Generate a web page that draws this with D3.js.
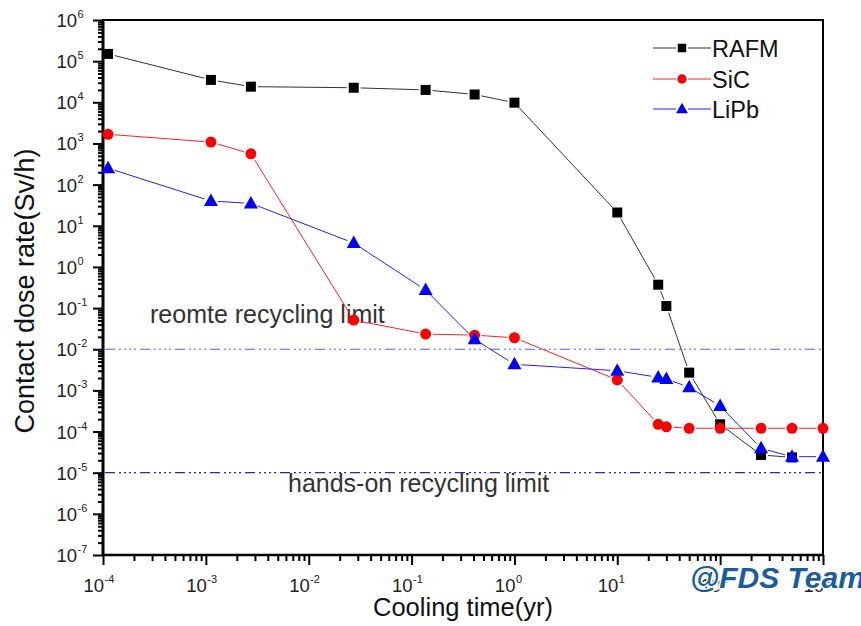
<!DOCTYPE html>
<html>
<head>
<meta charset="utf-8">
<script src="https://cdn.jsdelivr.net/npm/d3@7/dist/d3.min.js"></script>
<style>
  html, body { margin: 0; padding: 0; background: #fff; }
  svg { display: block; font-family: "Liberation Sans", Arial, sans-serif; }
</style>
</head>
<body>
<svg id="chart" width="861" height="626"></svg>
<script>
// Cooling times (yr) shared by all three materials
const coolingTimes = [1.12e-4, 1.12e-3, 2.74e-3, 2.74e-2, 0.137, 0.41, 1, 10, 25, 30, 50, 100, 250, 500, 1000];

// Contact dose rate (Sv/h) per material
const rafm = [1.5e5, 3.5e4, 2.4e4, 2.26e4, 2.0e4, 1.55e4, 9.8e3, 21, 0.37, 0.112, 2.7e-3, 1.5e-4, 2.7e-5, 2.35e-5, null];
const sic  = [1.67e3, 1.08e3, 5.6e2, 0.051, 0.0234, 0.022, 0.019, 1.8e-3, 1.5e-4, 1.3e-4, 1.2e-4, 1.2e-4, 1.2e-4, 1.2e-4, 1.2e-4];
const lipb = [250, 40, 35, 3.8, 0.275, 0.0174, 4.3e-3, 3.0e-3, 2.07e-3, 1.9e-3, 1.19e-3, 4.2e-4, 3.9e-5, 2.45e-5, 2.45e-5];

const seriesNames = ["RAFM", "SiC", "LiPb"];
const seriesValues = [rafm, sic, lipb];
const seriesColors = ["#000000", "#ff0000", "#0000ff"];
const lineColors = ["#333333", "#ff2020", "#2020ff"];
const seriesSymbols = ["square", "circle", "triangle"];

// Recycling limits (Sv/h)
const limitValues = [1e-2, 1e-5];
const limitLabels = ["reomte recycling limit", "hands-on recycling limit"];
const limitColors = ["#5a5aff", "#2a2aa0"];

// Axis tick exponents
const xExponents = [-4, -3, -2, -1, 0, 1, 2, 3];
const yExponents = [6, 5, 4, 3, 2, 1, 0, -1, -2, -3, -4, -5, -6, -7];

const svg = d3.select("#chart");
const plotLeft = 103, plotRight = 823, plotTop = 20, plotBottom = 555;

const x = d3.scaleLog().domain([1e-4, 1e3]).range([plotLeft, plotRight]);
const y = d3.scaleLog().domain([1e-7, 1e6]).range([plotBottom, plotTop]);

// Minor tick values (2..9 in each decade)
function minorTicks(minExp, maxExp) {
  const out = [];
  for (let e = minExp; e < maxExp; e++) {
    for (let m = 2; m <= 9; m++) out.push(m * Math.pow(10, e));
  }
  return out;
}

const axisG = svg.append("g");

// Left axis: major + minor ticks
const yMajor = d3.axisLeft(y).tickValues(yExponents.map(e => Math.pow(10, e))).tickSize(10).tickFormat("");
const yMinor = d3.axisLeft(y).tickValues(minorTicks(-7, 6)).tickSize(5).tickFormat("");
axisG.append("g").attr("transform", `translate(${plotLeft},0)`).call(yMinor);
axisG.append("g").attr("transform", `translate(${plotLeft},0)`).call(yMajor);

// Bottom axis: major + minor ticks
const xMajor = d3.axisBottom(x).tickValues(xExponents.map(e => Math.pow(10, e))).tickSize(10).tickFormat("");
const xMinor = d3.axisBottom(x).tickValues(minorTicks(-4, 3)).tickSize(6).tickFormat("");
axisG.append("g").attr("transform", `translate(0,${plotBottom})`).call(xMinor);
axisG.append("g").attr("transform", `translate(0,${plotBottom})`).call(xMajor);

axisG.selectAll(".domain").remove();
axisG.selectAll(".tick line").attr("stroke", "#000").attr("stroke-width", 2);

// Frame
svg.append("rect")
  .attr("x", plotLeft).attr("y", plotTop)
  .attr("width", plotRight - plotLeft).attr("height", plotBottom - plotTop)
  .attr("fill", "none").attr("stroke", "#000").attr("stroke-width", 2);
svg.append("line").attr("x1", plotLeft).attr("x2", plotLeft).attr("y1", plotTop).attr("y2", plotBottom)
  .attr("stroke", "#000").attr("stroke-width", 3);
svg.append("line").attr("x1", plotLeft).attr("x2", plotRight).attr("y1", plotBottom).attr("y2", plotBottom)
  .attr("stroke", "#000").attr("stroke-width", 2.5);

// Tick labels: "10" with superscript exponent
const labelColor = "#222";
yExponents.forEach(e => {
  const yy = y(Math.pow(10, e));
  svg.append("text").attr("x", 77).attr("y", yy + 7)
    .attr("text-anchor", "end").attr("font-size", 18.5).attr("fill", labelColor).text("10");
  svg.append("text").attr("x", 77.5).attr("y", yy - 2)
    .attr("text-anchor", "start").attr("font-size", 11).attr("fill", labelColor).text(String(e));
});
xExponents.forEach(e => {
  const xx = x(Math.pow(10, e));
  svg.append("text").attr("x", xx + 1).attr("y", 592)
    .attr("text-anchor", "end").attr("font-size", 18.5).attr("fill", labelColor).text("10");
  svg.append("text").attr("x", xx + 1.5).attr("y", 583)
    .attr("text-anchor", "start").attr("font-size", 11).attr("fill", labelColor).text(String(e));
});

// Axis titles
svg.append("text")
  .attr("transform", "translate(34,291) rotate(-90)")
  .attr("text-anchor", "middle").attr("font-size", 27).attr("fill", "#111")
  .text("Contact dose rate(Sv/h)");
svg.append("text")
  .attr("x", 463).attr("y", 616)
  .attr("text-anchor", "middle").attr("font-size", 25.5).attr("fill", "#111")
  .text("Cooling time(yr)");

// Recycling limit lines
limitValues.forEach((v, i) => {
  svg.append("line")
    .attr("x1", plotLeft + 2).attr("x2", plotRight)
    .attr("y1", y(v)).attr("y2", y(v))
    .attr("stroke", limitColors[i]).attr("stroke-width", 1.2)
    .attr("stroke-dasharray", "10 4 2 3 2 3 2 3 2 4");
});
svg.append("text").attr("x", 150).attr("y", 323)
  .attr("font-size", 25).attr("fill", "#333").text(limitLabels[0]);
svg.append("text").attr("x", 288).attr("y", 492)
  .attr("font-size", 25).attr("fill", "#333").text(limitLabels[1]);

// Symbol drawing
function drawSymbol(g, kind, cx, cy, color, scale = 1) {
  if (kind === "square") {
    const h = 5 * scale;
    g.append("rect").attr("x", cx - h).attr("y", cy - h).attr("width", 2 * h).attr("height", 2 * h)
      .attr("fill", color);
  } else if (kind === "circle") {
    g.append("circle").attr("cx", cx).attr("cy", cy).attr("r", 5.5 * scale).attr("fill", color);
  } else {
    const s = scale;
    g.append("path")
      .attr("d", `M${cx},${cy - 7.5 * s}L${cx + 7 * s},${cy + 5 * s}L${cx - 7 * s},${cy + 5 * s}Z`)
      .attr("fill", color);
  }
}

// Series: line segments with a small gap around each symbol, then symbols
const gap = 7;
seriesValues.forEach((vals, si) => {
  const g = svg.append("g");
  const pts = coolingTimes
    .map((t, i) => vals[i] == null ? null : [x(t), y(vals[i])])
    .filter(p => p !== null);
  for (let i = 0; i < pts.length - 1; i++) {
    const [x1, y1] = pts[i], [x2, y2] = pts[i + 1];
    const dx = x2 - x1, dy = y2 - y1, len = Math.hypot(dx, dy);
    if (len <= 2 * gap) continue;
    const ux = dx / len, uy = dy / len;
    g.append("line")
      .attr("x1", x1 + ux * gap).attr("y1", y1 + uy * gap)
      .attr("x2", x2 - ux * gap).attr("y2", y2 - uy * gap)
      .attr("stroke", lineColors[si]).attr("stroke-width", 1);
  }
  pts.forEach(([px, py]) => drawSymbol(g, seriesSymbols[si], px, py, seriesColors[si]));
});

// Legend
const legendY = [48, 79, 109];
seriesNames.forEach((name, i) => {
  const g = svg.append("g");
  g.append("line").attr("x1", 653).attr("x2", 676).attr("y1", legendY[i]).attr("y2", legendY[i])
    .attr("stroke", lineColors[i]).attr("stroke-width", 1);
  g.append("line").attr("x1", 688).attr("x2", 711).attr("y1", legendY[i]).attr("y2", legendY[i])
    .attr("stroke", lineColors[i]).attr("stroke-width", 1);
  drawSymbol(g, seriesSymbols[i], 682, legendY[i], seriesColors[i], 0.85);
  g.append("text").attr("x", 712).attr("y", legendY[i] + 8.5)
    .attr("font-size", 23.5).attr("fill", "#111").text(name);
});

// Team mark
svg.append("text")
  .attr("x", 690).attr("y", 588)
  .attr("font-size", 30).attr("font-weight", "bold").attr("font-style", "italic")
  .attr("fill", "#1b5c9e")
  .attr("stroke", "#fff").attr("stroke-width", 3).attr("paint-order", "stroke")
  .text("@FDS Team");
</script>
</body>
</html>
